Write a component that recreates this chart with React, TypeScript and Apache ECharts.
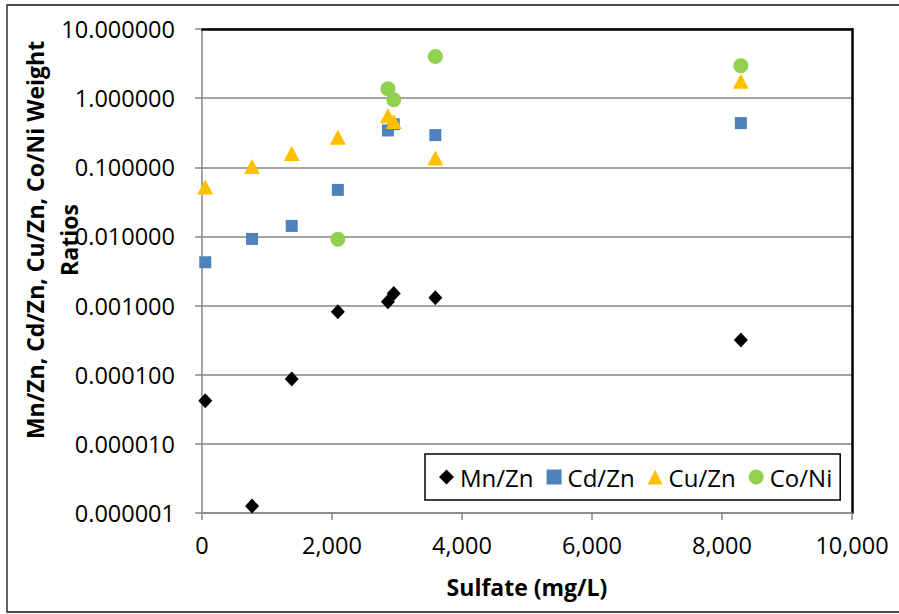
import React, { useEffect, useRef } from "react";
import * as echarts from "echarts";

const sulfate = [50, 770, 1380, 2090, 2860, 2950, 3590, 8290];
const mnZn = [4.2e-5, 1.26e-6, 8.7e-5, 8.15e-4, 1.14e-3, 1.5e-3, 1.3e-3, 3.17e-4];
const cdZn = [4.23e-3, 9.2e-3, 1.42e-2, 0.0471, 0.341, 0.42, 0.292, 0.436];
const cuZn = [0.052, 0.1025, 0.158, 0.272, 0.556, 0.46, 0.136, 1.75];
const coNi: (number | null)[] = [null, null, null, 0.0091, 1.37, 0.95, 4.0, 2.94];

const seriesNames = ["Mn/Zn", "Cd/Zn", "Cu/Zn", "Co/Ni"];
const xTitle = "Sulfate (mg/L)";
const yTitleLine1 = "Mn/Zn, Cd/Zn, Cu/Zn, Co/Ni Weight";
const yTitleLine2 = "Ratios";

const pairs = (vals: (number | null)[]) =>
  sulfate
    .map((x, i) => [x, vals[i]])
    .filter((p) => p[1] !== null && p[1] !== undefined);

export default function App() {
  const ref = useRef<HTMLDivElement>(null);
  useEffect(() => {
    const chart = echarts.init(ref.current!, null, { renderer: "svg" });
    const regular = "'Open Sans', 'Liberation Sans', sans-serif";
    const grey = "#868686";
    chart.setOption({
      animation: false,
      backgroundColor: "#ffffff",
      textStyle: { fontFamily: regular },
      grid: { left: 202, right: 47, top: 29, bottom: 101, containLabel: false },
      xAxis: [
        {
          type: "value",
          min: 0,
          max: 10000,
          interval: 2000,
          name: xTitle,
          nameLocation: "middle",
          nameGap: 62,
          nameTextStyle: { fontFamily: regular, fontWeight: "bold", fontSize: 23, color: "#000" },
          axisLine: { show: true, onZero: false, lineStyle: { color: grey, width: 1.5 } },
          axisTick: { show: true, length: 7, lineStyle: { color: grey, width: 1.5 } },
          axisLabel: {
            margin: 20,
            fontSize: 23.5,
            color: "#000",
            fontFamily: regular,
            formatter: (v: number) => v.toLocaleString("en-US"),
          },
          splitLine: { show: false },
        },
        {
          type: "value",
          position: "top",
          min: 0,
          max: 10000,
          axisLine: { show: true, onZero: false, lineStyle: { color: "#000", width: 2.5 } },
          axisTick: { show: false },
          axisLabel: { show: false },
          splitLine: { show: false },
        },
      ],
      yAxis: [
        {
          type: "log",
          logBase: 10,
          min: 1e-6,
          max: 10,
          axisLine: { show: true, onZero: false, lineStyle: { color: grey, width: 1.5 } },
          axisTick: { show: true, length: 7, lineStyle: { color: grey, width: 1.5 } },
          axisLabel: {
            margin: 27,
            fontSize: 23.5,
            color: "#000",
            fontFamily: regular,
            formatter: (v: number) => Number(v).toFixed(6),
          },
          splitLine: { show: true, lineStyle: { color: grey, width: 1.5 } },
          minorTick: { show: false },
        },
        {
          type: "value",
          position: "right",
          min: 0,
          max: 1,
          axisLine: { show: true, onZero: false, lineStyle: { color: "#000", width: 2.5 } },
          axisTick: { show: false },
          axisLabel: { show: false },
          splitLine: { show: false },
        },
      ],
      legend: {
        show: true,
        data: seriesNames,
        left: 425,
        top: 454,
        orient: "horizontal",
        backgroundColor: "#ffffff",
        borderColor: "#000",
        borderWidth: 1.5,
        borderRadius: 0,
        padding: [11, 8, 11, 14],
        itemWidth: 15,
        itemHeight: 15,
        itemGap: 13,
        itemStyle: { opacity: 1 },
        textStyle: { fontSize: 24, color: "#000", fontFamily: regular, padding: [0, 0, 0, 1] },
        selectedMode: false,
      },
      graphic: [
        {
          type: "rect",
          shape: { x: 7, y: 5, width: 900, height: 607 },
          style: { fill: "none", stroke: "#111", lineWidth: 1.3 },
          silent: true,
          z: -10,
        },
        {
          type: "text",
          x: 35,
          y: 240,
          rotation: Math.PI / 2,
          style: {
            text: yTitleLine1,
            fontFamily: regular,
            fontWeight: "bold",
            fontSize: 23,
            fill: "#000",
            textAlign: "center",
            textVerticalAlign: "middle",
          },
        },
        {
          type: "text",
          x: 69,
          y: 240,
          rotation: Math.PI / 2,
          style: {
            text: yTitleLine2,
            fontFamily: regular,
            fontWeight: "bold",
            fontSize: 23,
            fill: "#000",
            textAlign: "center",
            textVerticalAlign: "middle",
          },
        },
      ],
      series: [
        {
          name: "Mn/Zn",
          type: "scatter",
          symbol: "diamond",
          symbolSize: [14, 15],
          itemStyle: { color: "#000000", opacity: 1 },
          data: pairs(mnZn),
        },
        {
          name: "Cd/Zn",
          type: "scatter",
          symbol: "rect",
          symbolSize: 12,
          itemStyle: { color: "#4F81BD", opacity: 1 },
          data: pairs(cdZn),
        },
        {
          name: "Cu/Zn",
          type: "scatter",
          symbol: "triangle",
          symbolSize: [16, 15],
          itemStyle: { color: "#FFC000", opacity: 1 },
          data: pairs(cuZn),
        },
        {
          name: "Co/Ni",
          type: "scatter",
          symbol: "circle",
          symbolSize: 15,
          itemStyle: { color: "#92D050", opacity: 1 },
          data: pairs(coNi),
        },
      ],
    });
    return () => chart.dispose();
  }, []);
  return (
    <div
      ref={ref}
      style={{ position: "fixed", left: 0, top: 0, width: 899, height: 614, background: "#fff" }}
    />
  );
}
